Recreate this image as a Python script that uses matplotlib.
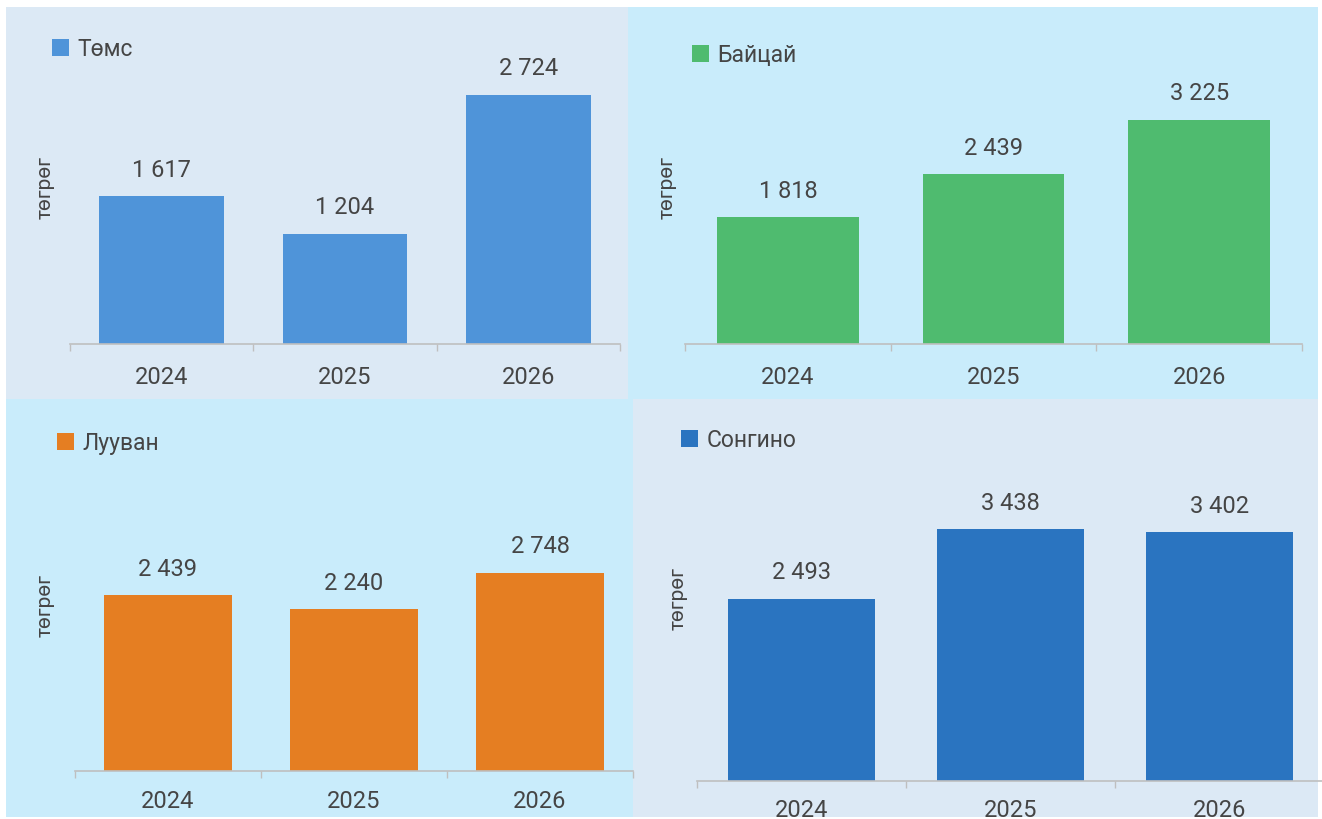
import matplotlib
matplotlib.use("Agg")
import matplotlib.pyplot as plt
from matplotlib.patches import Rectangle, Patch

plt.rcParams['font.family'] = ['Roboto', 'DejaVu Sans']

years = ["2024", "2025", "2026"]
names = ["Төмс", "Байцай", "Лууван", "Сонгино"]
tomsv = [1617, 1204, 2724]
baitsai = [1818, 2439, 3225]
luuvan = [2439, 2240, 2748]
songino = [2493, 3438, 3402]
ylabel = "төгрөг"

W, H = 1322, 820
fig = plt.figure(figsize=(W / 100, H / 100), dpi=100)
fig.patch.set_facecolor("white")

TXT = "#454545"
GREY_BG = "#dce9f5"
CYAN_BG = "#c9ecfb"

panels = [
    dict(name=names[0], vals=tomsv, color="#4f94d9", bg=GREY_BG,
         bgrect=(6, 8, 628, 400), ax=(70, 40, 620, 345), ytop=3330,
         leg=(52, 50), ylab=(45, 188), width=0.68, tickpad=15),
    dict(name=names[1], vals=baitsai, color="#4fbb6f", bg=CYAN_BG,
         bgrect=(628, 8, 1318, 400), ax=(685, 40, 1302, 345), ytop=4382,
         leg=(692, 56), ylab=(667, 188), width=0.69, tickpad=15),
    dict(name=names[2], vals=luuvan, color="#e57e22", bg=CYAN_BG,
         bgrect=(6, 400, 633, 818), ax=(75, 430, 633, 772), ytop=4737,
         leg=(57, 444), ylab=(45, 606), width=0.685, tickpad=13),
    dict(name=names[3], vals=songino, color="#2a74c0", bg=GREY_BG,
         bgrect=(633, 400, 1318, 818), ax=(697, 430, 1324, 782), ytop=4809,
         leg=(681, 441), ylab=(678, 599), width=0.70, tickpad=12),
]

def fx(x):
    return x / W

def fy(y):
    return 1 - y / H

for p in panels:
    x0, y0, x1, y1 = p["bgrect"]
    fig.patches.append(Rectangle((fx(x0), fy(y1)), fx(x1) - fx(x0), fy(y0) - fy(y1),
                                 transform=fig.transFigure, facecolor=p["bg"],
                                 edgecolor="none", zorder=-10))

for p in panels:
    l, t, r, b = p["ax"]
    ax = fig.add_axes([fx(l), fy(b), fx(r) - fx(l), fy(t) - fy(b)])
    ax.patch.set_visible(False)
    xs = list(range(len(years)))
    bars = ax.bar(xs, p["vals"], width=p["width"], color=p["color"], zorder=2)
    ax.bar_label(bars, labels=[f"{v:,}".replace(",", " ") for v in p["vals"]],
                 padding=11, fontsize=17, color=TXT)
    ax.set_xlim(-0.5, len(years) - 0.5)
    ax.set_ylim(0, p["ytop"])
    ax.set_xticks(xs)
    ax.set_xticklabels(years, fontsize=17, color=TXT)
    ax.set_xticks([i - 0.5 for i in range(len(years) + 1)], minor=True)
    ax.tick_params(axis="x", which="major", length=0, pad=p["tickpad"])
    ax.tick_params(axis="x", which="minor", length=5, width=1, color="#bfbfbf", direction="out")
    ax.set_yticks([])
    for s in ["left", "right", "top"]:
        ax.spines[s].set_visible(False)
    ax.spines["bottom"].set_color("#bfbfbf")
    ax.spines["bottom"].set_linewidth(1.2)
    ax.set_ylabel(ylabel, fontsize=15, color=TXT)
    lx, ly = p["ylab"]
    ax.yaxis.set_label_coords((lx - l) / (r - l), (b - ly) / (b - t))
    ax.yaxis.label.set_verticalalignment("center")
    gx, gy = p["leg"]
    leg = ax.legend(handles=[Patch(facecolor=p["color"], label=p["name"])],
                    loc="center left", bbox_to_anchor=(fx(gx), fy(gy)),
                    bbox_transform=fig.transFigure, frameon=False,
                    handlelength=0.75, handleheight=0.75, handletextpad=0.35,
                    borderpad=0, borderaxespad=0, fontsize=16.5)
    for tx in leg.get_texts():
        tx.set_color(TXT)

fig.savefig("out.png", dpi=100)
